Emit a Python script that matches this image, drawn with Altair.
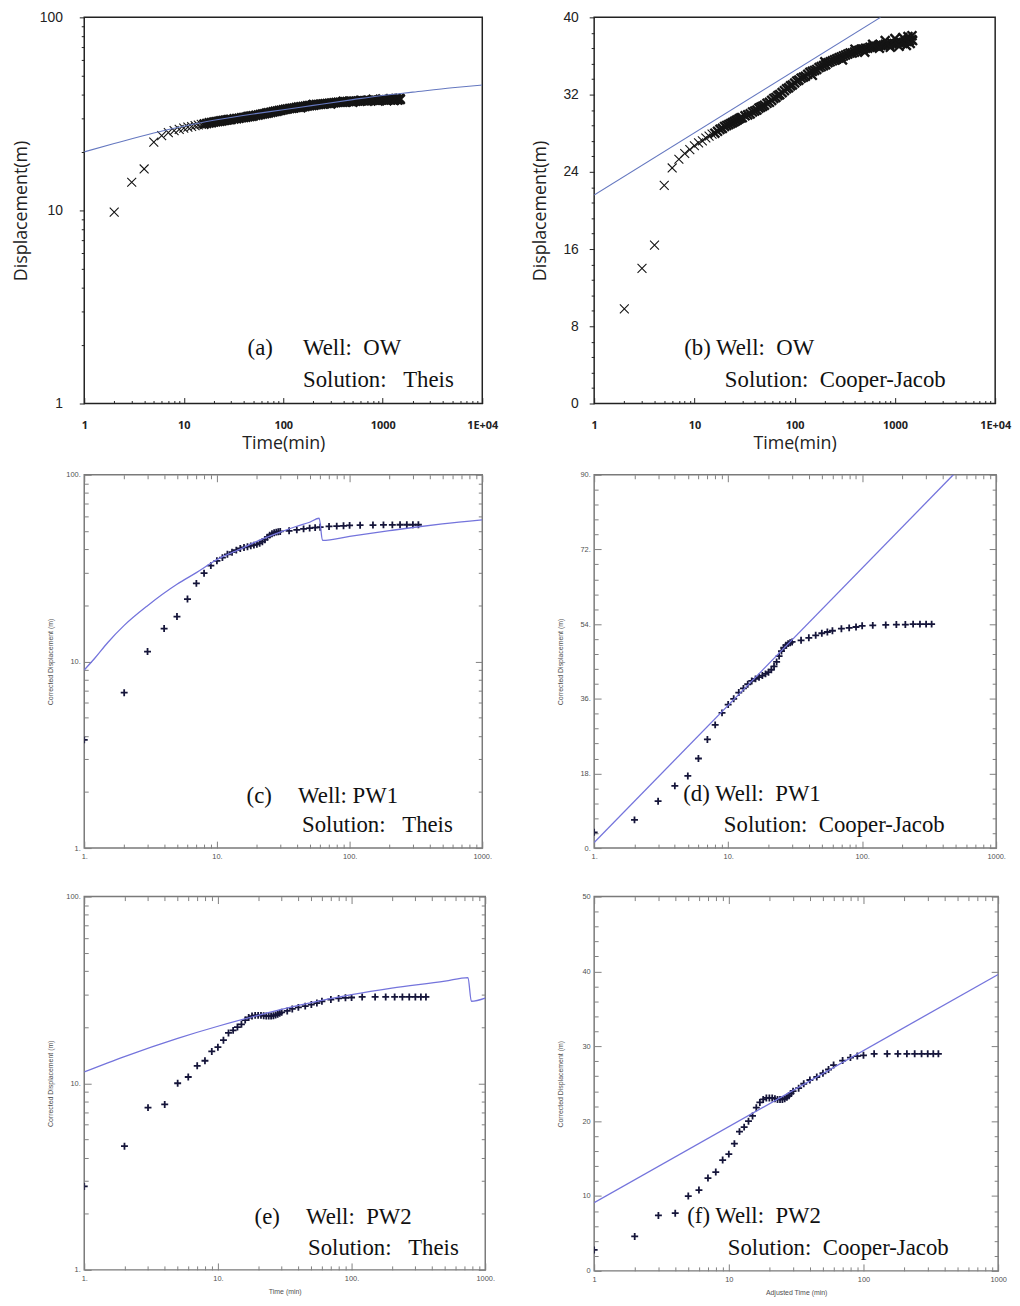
import altair as alt
import pandas as pd

# ---------------- values ----------------
# Observation well OW (panels a, b)
ow_time = [2, 3, 4, 5, 6, 7, 8, 9, 10, 11, 12, 13, 14, 15, 16, 17, 18, 19, 20, 21, 22, 23, 24, 25,
           26, 27, 28, 29, 30, 32, 34, 36, 38, 40, 42, 44, 46, 48, 50, 53, 56, 59, 62, 65, 68, 71,
           75, 79, 83, 87, 91, 95, 100, 105, 110, 116, 122, 128, 135, 142, 150, 158, 166, 175, 184,
           194, 204, 215, 226, 238, 250, 263, 277, 291, 306, 322, 339, 357, 375, 395, 415, 437, 460,
           484, 509, 535, 563, 592, 623, 655, 689, 725, 763, 802, 844, 888, 934, 982, 1033, 1086,
           1142, 1201, 1263, 1328, 1397, 1469, 1500,
           150, 200, 300, 400, 500, 600, 700, 800, 900, 1000, 1100, 1200, 1300, 1350, 1420, 1480]
ow_disp = [9.8, 14.0, 16.4, 22.6, 24.4, 25.3, 25.9, 26.3, 26.7, 27.0, 27.2, 27.5, 27.7, 27.9, 28.0,
           28.2, 28.4, 28.5, 28.7, 28.8, 28.9, 29.0, 29.1, 29.2, 29.3, 29.4, 29.5, 29.6, 29.6, 29.8,
           29.9, 30.0, 30.2, 30.3, 30.4, 30.6, 30.7, 30.8, 30.9, 31.1, 31.2, 31.4, 31.6, 31.7, 31.9,
           32.0, 32.2, 32.4, 32.6, 32.7, 32.9, 33.0, 33.2, 33.4, 33.5, 33.7, 33.8, 33.9, 34.1, 34.3,
           34.4, 34.5, 34.6, 34.8, 34.9, 35.0, 35.1, 35.3, 35.4, 35.5, 35.6, 35.7, 35.8, 35.9, 36.0,
           36.1, 36.2, 36.3, 36.3, 36.4, 36.5, 36.6, 36.7, 36.7, 36.8, 36.8, 36.9, 36.9, 37.0, 37.0,
           37.1, 37.1, 37.1, 37.2, 37.2, 37.2, 37.3, 37.3, 37.3, 37.4, 37.4, 37.4, 37.5, 37.5, 37.6,
           37.7, 37.6,
           34.0, 35.4, 35.6, 36.7, 36.4, 37.2, 36.8, 37.6, 36.9, 37.8, 37.0, 37.9, 37.1, 38.0, 37.3, 38.1]

# Pumping well PW1 (panels c, d)
pw1_time = [1, 2, 3, 4, 5, 6, 7, 8, 9, 10, 11, 12, 13, 14, 15, 16, 17, 18, 19, 20, 21, 22, 23, 24,
            25, 26, 27, 28, 29, 30, 35, 40, 45, 50, 55, 60, 70, 80, 90, 100, 120, 150, 180, 210,
            240, 270, 300, 330]
pw1_disp = [3.8, 6.8, 11.3, 15.0, 17.4, 21.6, 26.2, 29.7, 32.6, 34.6, 36.0, 37.5, 38.5, 39.5, 40.3,
            40.8, 41.2, 41.6, 42.0, 42.4, 43.0, 43.8, 44.9, 46.3, 47.5, 48.3, 48.9, 49.3, 49.5, 49.7,
            50.1, 50.7, 51.3, 51.8, 52.1, 52.4, 52.9, 53.1, 53.3, 53.6, 53.7, 53.8, 53.9, 53.9, 54.0,
            54.0, 54.0, 54.0]

# Pumping well PW2 (panels e, f)
pw2_time = [1, 2, 3, 4, 5, 6, 7, 8, 9, 10, 11, 12, 13, 14, 15, 16, 17, 18, 19, 20, 21, 22, 23, 24,
            25, 26, 27, 28, 29, 30, 33, 36, 40, 45, 50, 55, 60, 70, 80, 90, 100, 120, 150, 180, 210,
            240, 270, 300, 330, 360]
pw2_disp = [2.8, 4.6, 7.4, 7.7, 10.0, 10.8, 12.4, 13.2, 14.8, 15.6, 17.0, 18.6, 19.2, 20.0, 20.7,
            21.8, 22.5, 22.9, 23.1, 23.1, 23.1, 23.0, 22.9, 22.9, 22.9, 23.0, 23.2, 23.4, 23.7, 24.0,
            24.4, 25.0, 25.5, 25.9, 26.4, 26.9, 27.5, 28.1, 28.5, 28.7, 28.8, 29.0, 29.0, 29.0, 29.0,
            29.0, 29.0, 29.0, 29.0, 29.0]

# fitted solution curves
theis_ow_t = [1, 2, 5, 10, 20, 50, 100, 200, 500, 1000, 2000, 5000, 10000]
theis_ow_s = [20.1, 22.2, 25.2, 27.3, 29.3, 31.6, 33.2, 35.0, 37.5, 39.4, 41.0, 43.2, 44.6]
cj_ow_t = [1, 719]
cj_ow_s = [21.6, 40.0]
theis_pw1_t = [1, 1.2, 1.5, 2, 3, 5, 7, 10, 15, 20, 30, 40, 50, 59, 62.5, 100, 200, 300, 500, 1000]
theis_pw1_s = [9.0, 10.4, 12.6, 15.6, 19.9, 25.9, 29.9, 35.1, 40.0, 44.0, 49.3, 53.0, 55.7, 58.5,
               44.5, 46.8, 50.2, 52.2, 54.6, 57.4]
cj_pw1_t = [1, 479]
cj_pw1_s = [1.35, 90.0]
theis_pw2_t = [1, 2, 5, 10, 20, 40, 100, 200, 500, 743, 787, 1000]
theis_pw2_s = [11.5, 13.9, 17.4, 20.2, 23.1, 26.1, 29.8, 32.3, 35.2, 36.8, 27.5, 28.6]
cj_pw2_t = [1, 1000]
cj_pw2_s = [9.1, 39.6]

# tick values and labels
top_x_ticks = [1, 10, 100, 1000, 10000]
top_x_labels = ["1", "10", "100", "1000", "1E+04"]
a_y_ticks = [1, 10, 100]
a_y_labels = ["1", "10", "100"]
b_y_ticks = [0, 8, 16, 24, 32, 40]
b_y_labels = ["0", "8", "16", "24", "32", "40"]
low_x_ticks = [1, 10, 100, 1000]
cde_x_labels = ["1.", "10.", "100.", "1000."]
f_x_labels = ["1", "10", "100", "1000"]
ce_y_ticks = [1, 10, 100]
ce_y_labels = ["1.", "10.", "100."]
d_y_ticks = [0, 18, 36, 54, 72, 90]
d_y_labels = ["0.", "18.", "36.", "54.", "72.", "90."]
f_y_ticks = [0, 10, 20, 30, 40, 50]
f_y_labels = ["0", "10", "20", "30", "40", "50"]

notes = {
    "a": ["(a)", "Well:\u00a0 OW", "Solution:\u00a0\u00a0 Theis"],
    "b": ["(b) Well:\u00a0 OW", "Solution:\u00a0 Cooper-Jacob"],
    "c": ["(c)", "Well: PW1", "Solution:\u00a0\u00a0 Theis"],
    "d": ["(d) Well:\u00a0 PW1", "Solution:\u00a0 Cooper-Jacob"],
    "e": ["(e)", "Well:\u00a0 PW2", "Solution:\u00a0\u00a0 Theis"],
    "f": ["(f) Well:\u00a0 PW2", "Solution:\u00a0 Cooper-Jacob"],
}

# ---------------- helpers ----------------
X_PATH = "M-1,-1L1,1M-1,1L1,-1"
P_PATH = "M-1,0L1,0M0,-1L0,1"


def log_minor(decades):
    return [m * 10 ** k for k in range(decades) for m in range(2, 10)]


def lin_minor(step, n, every):
    return [round(step * i, 3) for i in range(n + 1) if i % every]


def lab_expr(vals, labels):
    return ("[" + ",".join(repr(l) for l in labels) + "][indexof(["
            + ",".join(repr(v) for v in vals) + "], datum.value)]")


def tick_axis(orient, values, size, offset, color):
    return alt.Axis(orient=orient, values=values, tickSize=size, offset=offset,
                    tickColor=color, tickWidth=1, labels=False, domain=False,
                    grid=False, title=None, minExtent=0, maxExtent=0)


def label_axis(orient, values, labels, size, offset, pad, font, fsize, fcolor, tcolor,
               weight="normal", title=None, tfont=None, tsize=None, tpad=0, extent=None,
               min_extent=None):
    kw = dict(orient=orient, values=values, labelExpr=lab_expr(values, labels),
              tickSize=size, offset=offset, tickColor=tcolor, tickWidth=1,
              labelPadding=pad, labelFont=font, labelFontSize=fsize, labelColor=fcolor,
              labelFontWeight=weight, labelOverlap=False, labelFlush=False,
              domain=False, grid=False, title=title)
    if title is not None:
        kw.update(titleFont=tfont, titleFontSize=tsize, titleFontWeight="normal",
                  titleColor=fcolor, titlePadding=tpad)
    if extent is not None:
        kw.update(minExtent=extent, maxExtent=extent)
    if min_extent is not None:
        kw.update(minExtent=min_extent)
    return alt.Axis(**kw)


def note(text, x, y):
    return alt.Chart(pd.DataFrame({"note": [text]})).mark_text(
        align="left", baseline="alphabetic", font="Liberation Serif", fontSize=23,
        color="#111111").encode(text="note:N", x=alt.value(x), y=alt.value(y))


def top_panel(ylog, ydom, yvals, ylabels, yminor, ypad, yext, ytpad, lt, ls, interp, w, h, texts):
    pts = pd.DataFrame({"t": ow_time, "s": ow_disp})
    ln = pd.DataFrame({"t": lt, "s": ls})
    xs = alt.Scale(type="log", domain=[1, 10000], nice=False)
    if ylog:
        ys = alt.Scale(type="log", domain=ydom, nice=False)
    else:
        ys = alt.Scale(type="linear", domain=ydom, nice=False, zero=False)
    col = "#222222"
    xa = label_axis("bottom", top_x_ticks, top_x_labels, 6, -6, 16, "Open Sans", 11, col, col,
                    weight="bold", title="Time(min)", tfont="Open Sans", tsize=18, tpad=4)
    ya = label_axis("left", yvals, ylabels, 5, 0, ypad, "Liberation Sans", 14, col, col,
                    title="Displacement(m)", tfont="Open Sans", tsize=18, tpad=ytpad, extent=yext)
    xm = tick_axis("bottom", log_minor(4), 3, -3, col)
    ym = tick_axis("left", yminor, 3, 0, col)
    p = alt.Chart(pts).mark_point(shape=X_PATH, size=81, color="#141414",
                                  filled=False, opacity=1, clip=True).encode(
        x=alt.X("t:Q", scale=xs, axis=xa), y=alt.Y("s:Q", scale=ys, axis=ya),
        strokeWidth=alt.condition("datum.t > 15", alt.value(2.4), alt.value(1.1)))
    l = alt.Chart(ln).mark_line(color="#6578c0", strokeWidth=1.1, clip=True,
                                interpolate=interp).encode(
        x=alt.X("t:Q", scale=xs, axis=xm), y=alt.Y("s:Q", scale=ys, axis=ym))
    return alt.layer(p, l, *texts).resolve_axis(x="independent", y="independent").properties(
        width=w, height=h, view=alt.ViewBackground(stroke="#222222", strokeWidth=1.5))


def low_panel(data_t, data_s, lt, ls, interp, ylog, ydom, yvals, ylabels, yminor, xlabels,
              xtitle, xmin_extent, w, h, texts):
    pts = pd.DataFrame({"t": data_t, "s": data_s})
    ln = pd.DataFrame({"t": lt, "s": ls})
    xs = alt.Scale(type="log", domain=[1, 1000], nice=False)
    if ylog:
        ys = alt.Scale(type="log", domain=ydom, nice=False)
    else:
        ys = alt.Scale(type="linear", domain=ydom, nice=False, zero=False)
    tc = "#808080"
    fc = "#505050"
    xminor = log_minor(3)
    xa = label_axis("bottom", low_x_ticks, xlabels, 7, -7, 4.5, "Liberation Sans", 7.5, fc, tc,
                    title=xtitle, tfont="Liberation Sans", tsize=7, tpad=6,
                    min_extent=xmin_extent)
    ya = label_axis("left", yvals, ylabels, 7, -7, 4, "Liberation Sans", 7.5, fc, tc,
                    title="Corrected Displacement (m)", tfont="Liberation Sans", tsize=7,
                    tpad=10, extent=28)
    p = alt.Chart(pts).mark_point(shape=P_PATH, size=49, strokeWidth=1.8, color="#15153a",
                                  filled=False, opacity=1, clip=True).encode(
        x=alt.X("t:Q", scale=xs, axis=xa), y=alt.Y("s:Q", scale=ys, axis=ya))
    l = alt.Chart(ln).mark_line(color="#7474dc", strokeWidth=1.3, clip=True,
                                interpolate=interp).encode(
        x=alt.X("t:Q", scale=xs, axis=tick_axis("bottom", xminor, 4, -4, tc)),
        y=alt.Y("s:Q", scale=ys, axis=tick_axis("left", yminor, 4, -4, tc)))
    g1 = alt.Chart(pts).mark_point(opacity=0).encode(
        x=alt.X("t:Q", scale=xs, axis=tick_axis("top", low_x_ticks, 7, -7, tc)),
        y=alt.Y("s:Q", scale=ys, axis=tick_axis("right", yvals, 7, -7, tc)))
    g2 = alt.Chart(pts).mark_point(opacity=0).encode(
        x=alt.X("t:Q", scale=xs, axis=tick_axis("top", xminor, 4, -4, tc)),
        y=alt.Y("s:Q", scale=ys, axis=tick_axis("right", yminor, 4, -4, tc)))
    return alt.layer(p, l, g1, g2, *texts).resolve_axis(
        x="independent", y="independent").properties(
        width=w, height=h, view=alt.ViewBackground(stroke="#7a7a7a", strokeWidth=1.5))


# ---------------- panels ----------------
pa = top_panel(True, [1, 100], a_y_ticks, a_y_labels, log_minor(2), 17, 49, 5,
               theis_ow_t, theis_ow_s, "monotone", 402, 390,
               [note(notes["a"][0], 165, 341), note(notes["a"][1], 221, 341),
                note(notes["a"][2], 221, 373)])
pb = top_panel(False, [0, 40], b_y_ticks, b_y_labels, lin_minor(1.6, 25, 5), 11, 34, 11,
               cj_ow_t, cj_ow_s, "linear", 405, 390,
               [note(notes["b"][0], 91, 341), note(notes["b"][1], 132, 373)])
pc = low_panel(pw1_time, pw1_disp, theis_pw1_t, theis_pw1_s, "monotone", True, [1, 100],
               ce_y_ticks, ce_y_labels, log_minor(2), cde_x_labels, None, 33, 402, 377,
               [note(notes["c"][0], 164, 331), note(notes["c"][1], 216, 331),
                note(notes["c"][2], 220, 361)])
pd_ = low_panel(pw1_time, pw1_disp, cj_pw1_t, cj_pw1_s, "linear", False, [0, 90], d_y_ticks,
                d_y_labels, lin_minor(3.6, 25, 5), cde_x_labels, None, 33, 406, 377,
                [note(notes["d"][0], 90, 329), note(notes["d"][1], 131, 361)])
pe = low_panel(pw2_time, pw2_disp, theis_pw2_t, theis_pw2_s, "monotone", True, [1, 100],
               ce_y_ticks, ce_y_labels, log_minor(2), cde_x_labels, "Time (min)", None, 405, 377,
               [note(notes["e"][0], 172, 331), note(notes["e"][1], 224, 331),
                note(notes["e"][2], 226, 362)])
pf = low_panel(pw2_time, pw2_disp, cj_pw2_t, cj_pw2_s, "linear", False, [0, 50], f_y_ticks,
               f_y_labels, lin_minor(2, 25, 5), f_x_labels, "Adjusted Time (min)", None, 408, 378,
               [note(notes["f"][0], 94, 330), note(notes["f"][1], 135, 362)])

chart = alt.concat(pa, pb, pc, pd_, pe, pf, columns=2,
                   spacing={"row": 17, "column": 32}, align="each").properties(
    padding={"left": 4, "top": -5, "right": 0, "bottom": 0},
    background="white")

chart.save("out.html", embed_options={"renderer": "svg", "actions": False})
